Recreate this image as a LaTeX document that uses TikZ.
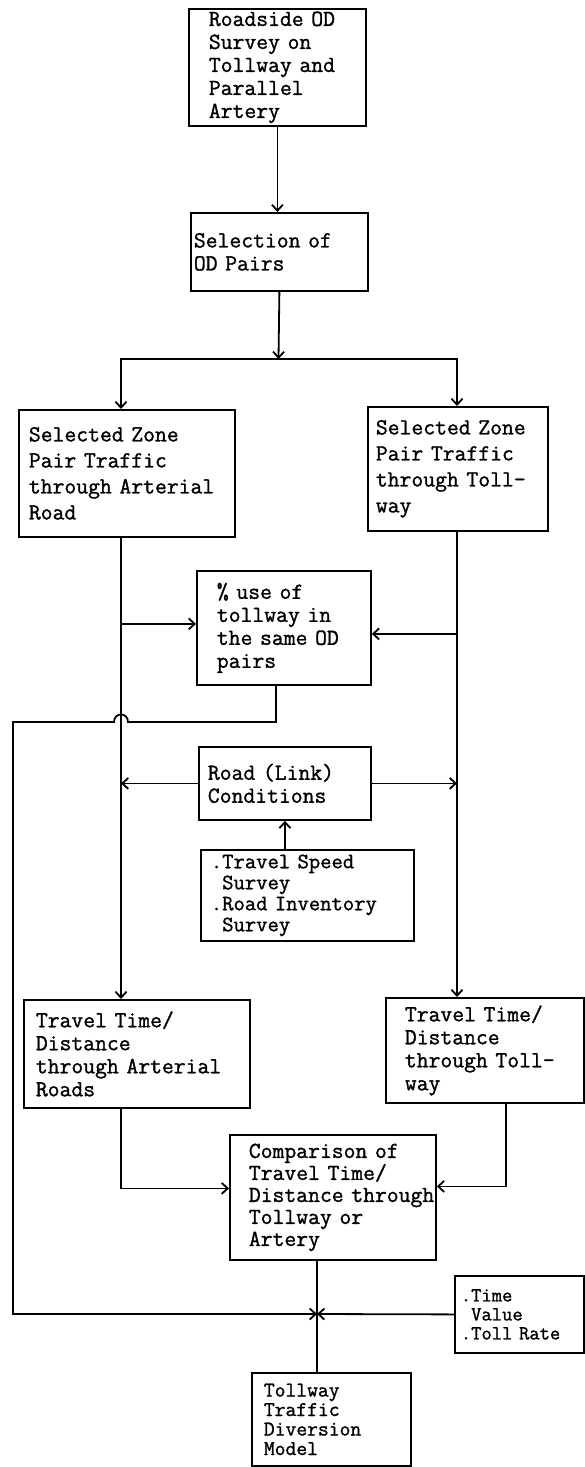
\documentclass[tikz,border=0pt]{standalone}
\usepackage{fontspec}
\newfontfamily\typefont{Latin Modern Mono}[FakeBold=1.2]
\usetikzlibrary{arrows.meta, positioning, calc}

\begin{document}
\begin{tikzpicture}[x=1pt, y=-1pt,
  procbox/.style={draw, line width=1.8pt, anchor=north west, align=left, inner ysep=2pt,
    font=\typefont\fontsize{23}{23}\selectfont},
  flow/.style={line width=1.8pt, -{Straight Barb[length=6pt, width=11pt]}},
  link/.style={line width=1.8pt}]
  \useasboundingbox (0,0) rectangle (585,1467);

  % Survey and OD pairs
  \node[procbox, text width=137pt, inner xsep=20pt, minimum height=117pt] (roadside) at (188,8)
    {Roadside OD\\Survey on\\Tollway and\\Parallel\\Artery};
  \node[procbox, text width=171pt, inner xsep=3pt, minimum height=78pt] (odsel) at (190,212)
    {Selection of\\OD Pairs};

  % Zone pair traffic
  \node[procbox, text width=196pt, inner xsep=10pt, minimum height=127pt,
    font=\typefont\fontsize{23}{26}\selectfont] (artsel) at (18,409)
    {Selected Zone\\Pair Traffic\\through Arterial\\Road};
  \node[procbox, text width=164pt, inner xsep=8pt, minimum height=124pt,
    font=\typefont\fontsize{23}{26}\selectfont] (tollsel) at (367,406)
    {Selected Zone\\Pair Traffic\\through Toll-\\way};
  \node[procbox, text width=134pt, inner xsep=20pt, minimum height=114pt] (pctuse) at (196,570)
    {\% use of\\tollway in\\the same OD\\pairs};

  % Link conditions
  \node[procbox, text width=154pt, inner xsep=9pt, minimum height=73pt] (linkcond) at (198,746)
    {Road (Link)\\Conditions};
  \node[procbox, text width=193pt, inner xsep=10pt, minimum height=91pt,
    font=\typefont\fontsize{22}{21}\selectfont] (speedsurv) at (200,849)
    {.Travel Speed\\\phantom{.}Survey\\.Road Inventory\\\phantom{.}Survey};

  % Travel times
  \node[procbox, text width=202pt, inner xsep=12pt, minimum height=108pt] (arttime) at (23,999)
    {Travel Time/\\Distance\\through Arterial\\Roads};
  \node[procbox, text width=160pt, inner xsep=19pt, minimum height=105pt] (tolltime) at (385,997)
    {Travel Time/\\Distance\\through Toll-\\way};
  \node[procbox, text width=168pt, inner xsep=19pt, minimum height=125pt,
    font=\typefont\fontsize{23}{22}\selectfont] (compare) at (229,1134)
    {Comparison of\\Travel Time/\\Distance~through\\Tollway or\\Artery};

  % Diversion model
  \node[procbox, text width=117pt, inner xsep=6pt, minimum height=77pt,
    font=\typefont\fontsize{20}{19}\selectfont] (timeval) at (454,1275)
    {.Time\\\phantom{.}Value\\.Toll~Rate};
  \node[procbox, text width=135pt, inner xsep=12pt, minimum height=93pt,
    font=\typefont\fontsize{21}{19.5}\selectfont] (divmodel) at (251,1372)
    {Tollway\\Traffic\\Diversion\\Model};

  \coordinate (artx) at (121,0);
  \coordinate (tollx) at (457,0);
  \coordinate (split) at (278.5,359);
  \coordinate (junc) at (317,1314);

  % connectors
  \draw[flow] (roadside.south) -- (roadside.south |- odsel.north);
  \draw[flow] (odsel.south) -- (split);
  \draw[flow] (split) -| (artsel.north -| artx);
  \draw[flow] (split) -| (tollsel.north -| tollx);
  \draw[flow] (artsel.south -| artx) -- (arttime.north -| artx);
  \draw[flow] (tollsel.south -| tollx) -- (tolltime.north -| tollx);
  \draw[flow] ([yshift=4pt]pctuse.west -| artx) -- ([yshift=4pt]pctuse.west);
  \draw[flow] ([yshift=-6pt]pctuse.east -| tollx) -- ([yshift=-6pt]pctuse.east);
  \draw[flow] (linkcond.west) -- (linkcond.west -| artx);
  \draw[flow] (linkcond.east) -- (linkcond.east -| tollx);
  \draw[flow] (speedsurv.north -| linkcond.south) -- (linkcond.south);
  \draw[flow] (pctuse.south -| 276,0) |- (128,722)
    .. controls (128,712) and (114,712) .. (114,722) -- (13,722) |- (junc);
  \draw[flow] (arttime.south -| artx) |- ([yshift=9pt]compare.west);
  \draw[flow] (tolltime.south -| 506,0) |- ([yshift=11pt]compare.east);
  \draw[flow] (timeval.west) -- (junc);
  \draw[link] (compare.south -| junc) -- (divmodel.north -| junc);
\end{tikzpicture}
\end{document}
